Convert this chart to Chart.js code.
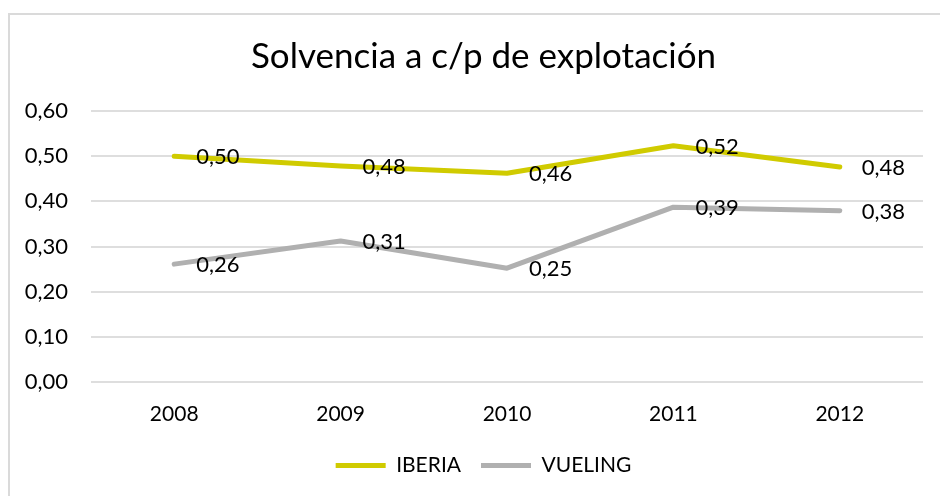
<!DOCTYPE html>
<html lang="es">
<head>
    <meta charset="UTF-8">
    <title>Solvencia a c/p de explotación</title>
    <script src="https://cdn.jsdelivr.net/npm/chart.js"></script>
    <style>
        html, body { margin: 0; padding: 0; background: #fff; }
        body { width: 940px; height: 496px; position: relative; overflow: hidden; }
        .frame {
            position: absolute; left: 8px; top: 13px; width: 1000px; height: 600px;
            border: 2px solid #DADADA; box-sizing: border-box;
        }
        #chart { position: absolute; left: 0; top: 0; }
    </style>
</head>
<body>
    <div class="frame"></div>
    <canvas id="chart" width="940" height="496"></canvas>

    <script>
        // datos
        const years = ['2008', '2009', '2010', '2011', '2012'];
        const iberia = [0.500, 0.478, 0.462, 0.523, 0.476];
        const vueling = [0.261, 0.312, 0.252, 0.387, 0.379];
        const yTicks = [0, 0.1, 0.2, 0.3, 0.4, 0.5, 0.6];

        const fmt = v => v.toFixed(2).replace('.', ',');
        const FONT = 'Lato, "Open Sans", sans-serif';

        // etiquetas de datos a la derecha de cada punto
        const dataLabels = {
            id: 'dataLabels',
            afterDatasetsDraw(chart) {
                const ctx = chart.ctx;
                ctx.save();
                ctx.font = '22px ' + FONT;
                ctx.fillStyle = '#000';
                ctx.textAlign = 'left';
                ctx.textBaseline = 'middle';
                chart.data.datasets.forEach((ds, i) => {
                    chart.getDatasetMeta(i).data.forEach((pt, j) => {
                        ctx.fillText(fmt(ds.data[j]), pt.x + 22, pt.y + 1);
                    });
                });
                ctx.restore();
            }
        };

        // título y leyenda centrados algo más a la derecha, como en Excel
        const shiftBlocks = {
            id: 'shiftBlocks',
            afterLayout(chart) {
                [chart.titleBlock, chart.legend].forEach(b => {
                    if (b) { b.left += 22; b.right += 22; }
                });
            }
        };

        Chart.defaults.font.family = FONT;
        Chart.defaults.color = '#000';

        new Chart(document.getElementById('chart'), {
            type: 'line',
            data: {
                labels: years,
                datasets: [
                    {
                        label: 'IBERIA',
                        data: iberia,
                        borderColor: '#D0CB00',
                        backgroundColor: '#D0CB00',
                        borderWidth: 5,
                        borderCapStyle: 'round',
                        borderJoinStyle: 'round',
                        pointRadius: 0,
                        tension: 0
                    },
                    {
                        label: 'VUELING',
                        data: vueling,
                        borderColor: '#B0B0B0',
                        backgroundColor: '#B0B0B0',
                        borderWidth: 5,
                        borderCapStyle: 'round',
                        borderJoinStyle: 'round',
                        pointRadius: 0,
                        tension: 0
                    }
                ]
            },
            options: {
                responsive: false,
                animation: false,
                devicePixelRatio: 1,
                layout: { padding: { left: 0, right: 17, top: 0, bottom: 10 } },
                plugins: {
                    title: {
                        display: true,
                        text: 'Solvencia a c/p de explotación',
                        font: { size: 35, weight: 'normal', lineHeight: 1.2 },
                        color: '#000',
                        padding: { top: 36, bottom: 33 }
                    },
                    legend: {
                        position: 'bottom',
                        labels: {
                            usePointStyle: true,
                            pointStyle: 'line',
                            pointStyleWidth: 50,
                            padding: 20,
                            font: { size: 21 },
                            color: '#000'
                        }
                    },
                    tooltip: { enabled: false }
                },
                scales: {
                    x: {
                        offset: true,
                        grid: { display: false, drawTicks: false },
                        border: { display: false },
                        ticks: { font: { size: 21 }, padding: 20, maxRotation: 0 },
                        afterFit: s => { s.height = 53; }
                    },
                    y: {
                        min: 0,
                        max: 0.6,
                        afterBuildTicks: s => { s.ticks = yTicks.map(v => ({ value: v })); },
                        grid: { color: '#DEDEDE', lineWidth: 2, drawTicks: false },
                        border: { display: false },
                        ticks: { font: { size: 22 }, padding: 23, callback: v => fmt(v) },
                        afterFit: s => { s.width = 91; }
                    }
                }
            },
            plugins: [dataLabels, shiftBlocks]
        });
    </script>
</body>
</html>
